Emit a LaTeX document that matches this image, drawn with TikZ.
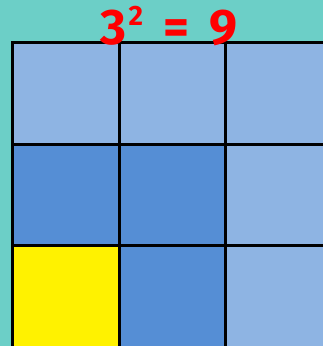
\documentclass[tikz,border=0pt]{standalone}
\usepackage{fontspec}
\setmainfont{Fira Sans}
\definecolor{bgteal}{RGB}{108,207,199}
\definecolor{lightblue}{RGB}{142,180,227}
\definecolor{darkblue}{RGB}{85,142,213}
\definecolor{titlered}{RGB}{255,0,0}
\tikzset{
  cell/.style={rectangle, draw=black, line width=3pt, minimum width=106.5pt,
    minimum height=101.5pt, anchor=north west, inner sep=0pt},
  title/.style={text=titlered, font=\fontsize{50}{50}\selectfont\bfseries, inner sep=0pt}
}
\begin{document}
\begin{tikzpicture}[x=1pt,y=-1pt]
  \useasboundingbox (0,0) rectangle (323,346);
  \clip (0,0) rectangle (323,346);
  \fill[bgteal] (0,0) rectangle (323,346);
  % the 3 x 3 grid
  \foreach \r/\c/\col in {0/0/lightblue, 0/1/lightblue, 0/2/lightblue,
                          1/0/darkblue, 1/1/darkblue, 1/2/lightblue,
                          2/0/yellow, 2/1/darkblue, 2/2/lightblue}
    \node (cell-\r-\c)[cell, fill=\col] at (11+106.5*\c, 41+101.5*\r) {};
  % title
  \node (t)[title] at (169,26) {3\kern2pt\raisebox{0.7ex}{\fontsize{28}{28}\selectfont\bfseries 2}\ \,=\ \,9};
\end{tikzpicture}
\end{document}
